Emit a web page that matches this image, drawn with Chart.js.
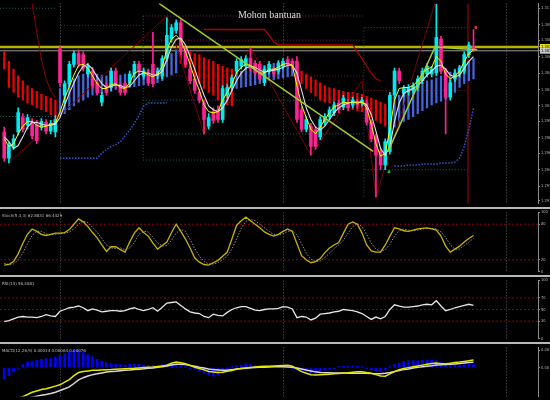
<!DOCTYPE html>
<html>
<head>
<meta charset="utf-8">
<title>Mohon bantuan</title>
<script src="https://cdn.jsdelivr.net/npm/chart.js@4.4.1/dist/chart.umd.min.js"></script>
<style>
  html, body { margin: 0; background: #000; }
  #wrap { position: relative; width: 550px; height: 400px; overflow: hidden; background: #000; }
  .pane { position: absolute; left: 0; width: 550px; }
  .sep { position: absolute; left: 0; width: 550px; height: 2px; background: #b8b8b8; }
</style>
</head>
<body>
<div id="wrap">
  <div class="pane" style="top:0;height:207px"><canvas id="price"></canvas></div>
  <div class="sep" style="top:207px"></div>
  <div class="pane" style="top:209px;height:66px"><canvas id="stoch"></canvas></div>
  <div class="sep" style="top:275px"></div>
  <div class="pane" style="top:277px;height:65px"><canvas id="rsi"></canvas></div>
  <div class="sep" style="top:342px"></div>
  <div class="pane" style="top:344px;height:56px"><canvas id="macd"></canvas></div>
</div>
<script>
// visible bar range (102 bars + empty space on the right), day starts
const X_MIN = -0.915, X_MAX = 114.88;
const DAY_STARTS = [12, 60, 108];

// candles
const OPEN = [1.2987,1.2960,1.2972,1.2987,1.3002,1.2994,1.2997,1.2995,1.2992,1.2997,
  1.2988,1.2987,1.3073,1.3025,1.3037,1.3057,1.3068,1.3067,1.3047,1.3050,
  1.3038,1.3018,1.3035,1.3033,1.3050,1.3035,1.3037,1.3038,1.3047,1.3057,
  1.3045,1.3048,1.3057,1.3045,1.3045,1.3063,1.3083,1.3092,1.3100,1.3073,
  1.3052,1.3042,1.3028,1.3017,1.2993,1.3008,1.3010,1.3000,1.3025,1.3033,
  1.3050,1.3055,1.3055,1.3063,1.3058,1.3057,1.3038,1.3050,1.3052,1.3050,
  1.3055,1.3062,1.3060,1.3060,1.3010,1.2990,1.2993,1.2990,1.2982,1.2997,
  1.3003,1.3007,1.3017,1.3013,1.3018,1.3015,1.3018,1.3017,1.3017,1.2997,
  1.2982,1.2967,1.2953,1.2967,1.3025,1.3050,1.3027,1.3028,1.3030,1.3033,
  1.3040,1.3047,1.3047,1.3048,1.3083,1.3050,1.3023,1.3042,1.3047,1.3050,
  1.3067,1.3075];
const HIGH = [1.2992,1.2976,1.2984,1.3012,1.3006,1.3005,1.3001,1.2999,1.3001,1.3000,
  1.2999,1.3004,1.3076,1.3040,1.3060,1.3071,1.3072,1.3070,1.3058,1.3054,
  1.3041,1.3028,1.3038,1.3053,1.3053,1.3038,1.3040,1.3050,1.3060,1.3060,
  1.3053,1.3051,1.3090,1.3053,1.3066,1.3105,1.3098,1.3103,1.3103,1.3076,
  1.3055,1.3045,1.3031,1.3020,1.3006,1.3012,1.3014,1.3035,1.3036,1.3046,
  1.3063,1.3065,1.3066,1.3074,1.3061,1.3060,1.3055,1.3060,1.3055,1.3061,
  1.3063,1.3065,1.3063,1.3065,1.3013,1.3003,1.2996,1.2993,1.3003,1.3006,
  1.3013,1.3018,1.3020,1.3025,1.3021,1.3023,1.3021,1.3023,1.3020,1.3000,
  1.2985,1.2970,1.2980,1.3028,1.3053,1.3053,1.3035,1.3036,1.3038,1.3045,
  1.3053,1.3058,1.3055,1.3119,1.3086,1.3053,1.3041,1.3051,1.3056,1.3070,
  1.3080,1.3093];
const LOW = [1.2957,1.2955,1.2969,1.2984,1.2987,1.2990,1.2980,1.2975,1.2989,1.2985,
  1.2985,1.2982,1.3034,1.3017,1.3034,1.3054,1.3054,1.3050,1.3044,1.3032,
  1.3025,1.3014,1.3025,1.3030,1.3032,1.3025,1.3025,1.3035,1.3044,1.3047,
  1.3042,1.3035,1.3034,1.3042,1.3042,1.3060,1.3080,1.3089,1.3067,1.3054,
  1.3037,1.3027,1.3017,1.2985,1.2990,1.2996,1.2997,1.2997,1.3022,1.3030,
  1.3047,1.3052,1.3052,1.3050,1.3045,1.3039,1.3035,1.3047,1.3044,1.3047,
  1.3052,1.3054,1.3052,1.2997,1.2987,1.2987,1.2963,1.2969,1.2979,1.2994,
  1.3000,1.3004,1.3007,1.3010,1.3009,1.3012,1.3012,1.3014,1.2994,1.2977,
  1.2920,1.2948,1.2948,1.2964,1.3022,1.3037,1.3024,1.3025,1.3027,1.3030,
  1.3037,1.3044,1.3044,1.3045,1.3047,1.2985,1.3020,1.3039,1.3044,1.3047,
  1.3064,1.3070];
const CLOSE = [1.2960,1.2973,1.2980,1.3007,1.2990,1.3002,1.2983,1.2978,1.2998,1.2988,
  1.2996,1.3000,1.3038,1.3037,1.3057,1.3068,1.3057,1.3053,1.3055,1.3035,
  1.3028,1.3025,1.3028,1.3050,1.3035,1.3028,1.3028,1.3047,1.3057,1.3050,
  1.3050,1.3038,1.3037,1.3050,1.3063,1.3087,1.3095,1.3100,1.3070,1.3057,
  1.3040,1.3030,1.3020,1.3000,1.3002,1.2999,1.3000,1.3032,1.3033,1.3043,
  1.3060,1.3062,1.3063,1.3053,1.3048,1.3042,1.3052,1.3057,1.3047,1.3058,
  1.3060,1.3057,1.3055,1.3000,1.2990,1.3000,1.2972,1.2972,1.3000,1.3003,
  1.3010,1.3015,1.3010,1.3022,1.3012,1.3020,1.3015,1.3020,1.2997,1.2980,
  1.2963,1.2953,1.2977,1.3025,1.3050,1.3040,1.3032,1.3033,1.3035,1.3042,
  1.3050,1.3055,1.3052,1.3085,1.3050,1.3023,1.3038,1.3048,1.3053,1.3067,
  1.3077,1.3072];

// moving averages
const MA_FAST = [1.2980,1.2972,1.2975,1.2985,1.2993,1.2998,1.2998,1.2994,1.2992,1.2993,
  1.2995,1.2996,1.3008,1.3022,1.3034,1.3046,1.3056,1.3057,1.3053,1.3045,
  1.3037,1.3032,1.3032,1.3036,1.3037,1.3033,1.3032,1.3038,1.3048,1.3050,
  1.3049,1.3046,1.3044,1.3047,1.3055,1.3072,1.3083,1.3087,1.3082,1.3070,
  1.3057,1.3042,1.3030,1.3015,1.3008,1.3007,1.3008,1.3020,1.3028,1.3037,
  1.3048,1.3054,1.3057,1.3056,1.3052,1.3048,1.3048,1.3052,1.3052,1.3054,
  1.3057,1.3058,1.3056,1.3035,1.3015,1.3002,1.2990,1.2985,1.2992,1.3000,
  1.3007,1.3013,1.3015,1.3018,1.3017,1.3018,1.3017,1.3018,1.3012,1.2995,
  1.2975,1.2962,1.2965,1.2990,1.3020,1.3032,1.3033,1.3033,1.3035,1.3040,
  1.3047,1.3052,1.3054,1.3065,1.3060,1.3047,1.3042,1.3045,1.3050,1.3060,
  1.3068,1.3072];
const MA_SLOW = [1.2982,1.2977,1.2970,1.2973,1.2982,1.2992,1.2997,1.2997,1.2995,1.2994,
  1.2994,1.2995,1.3002,1.3015,1.3027,1.3038,1.3048,1.3055,1.3057,1.3052,
  1.3044,1.3037,1.3033,1.3034,1.3036,1.3035,1.3033,1.3034,1.3040,1.3046,
  1.3048,1.3048,1.3046,1.3046,1.3050,1.3062,1.3075,1.3083,1.3084,1.3077,
  1.3065,1.3052,1.3038,1.3025,1.3014,1.3010,1.3008,1.3012,1.3020,1.3030,
  1.3040,1.3048,1.3053,1.3055,1.3054,1.3051,1.3049,1.3050,1.3051,1.3052,
  1.3054,1.3056,1.3056,1.3048,1.3030,1.3012,1.3000,1.2992,1.2989,1.2993,
  1.3000,1.3007,1.3012,1.3015,1.3017,1.3018,1.3018,1.3018,1.3015,1.3005,
  1.2988,1.2970,1.2963,1.2972,1.2998,1.3017,1.3027,1.3030,1.3032,1.3035,
  1.3040,1.3046,1.3050,1.3055,1.3056,1.3052,1.3046,1.3044,1.3046,1.3053,
  1.3060,1.3065];

// trend cloud bars (1 = bullish blue, 0 = bearish red)
const CLOUD_HI = [1.3070,1.3060,1.3052,1.3045,1.3040,1.3035,1.3032,1.3029,1.3026,1.3024,
  1.3022,1.3020,1.3032,1.3035,1.3038,1.3042,1.3045,1.3047,1.3049,1.3048,
  1.3047,1.3046,1.3045,1.3045,1.3046,1.3046,1.3047,1.3047,1.3049,1.3050,
  1.3051,1.3052,1.3052,1.3053,1.3055,1.3062,1.3068,1.3072,1.3072,1.3071,
  1.3070,1.3068,1.3067,1.3064,1.3062,1.3060,1.3057,1.3055,1.3053,1.3052,
  1.3049,1.3050,1.3052,1.3053,1.3054,1.3055,1.3056,1.3057,1.3058,1.3059,
  1.3060,1.3060,1.3060,1.3052,1.3050,1.3047,1.3044,1.3041,1.3038,1.3035,
  1.3033,1.3032,1.3030,1.3029,1.3028,1.3028,1.3027,1.3026,1.3024,1.3022,
  1.3020,1.3018,1.3016,1.3020,1.3023,1.3025,1.3028,1.3031,1.3034,1.3036,
  1.3038,1.3040,1.3041,1.3043,1.3045,1.3047,1.3049,1.3052,1.3055,1.3057,
  1.3060,1.3063];
const CLOUD_LO = [1.3052,1.3033,1.3028,1.3023,1.3020,1.3017,1.3015,1.3012,1.3010,1.3008,
  1.3005,1.3003,1.3003,1.3006,1.3010,1.3014,1.3018,1.3020,1.3023,1.3025,
  1.3026,1.3027,1.3028,1.3029,1.3031,1.3032,1.3032,1.3033,1.3034,1.3035,
  1.3036,1.3037,1.3038,1.3038,1.3040,1.3044,1.3046,1.3048,1.3058,1.3054,
  1.3050,1.3044,1.3037,1.3032,1.3028,1.3025,1.3020,1.3017,1.3015,1.3014,
  1.3032,1.3033,1.3034,1.3035,1.3036,1.3037,1.3038,1.3040,1.3041,1.3042,
  1.3043,1.3044,1.3045,1.3040,1.3037,1.3032,1.3028,1.3024,1.3020,1.3018,
  1.3017,1.3015,1.3013,1.3012,1.3012,1.3010,1.3009,1.3008,1.3005,1.3002,
  1.2999,1.2996,1.2993,1.2990,1.2992,1.2995,1.2998,1.3000,1.3003,1.3006,
  1.3009,1.3012,1.3015,1.3017,1.3019,1.3021,1.3023,1.3028,1.3033,1.3037,
  1.3040,1.3042];
const CLOUD_BULL = [0,0,0,0,0,0,0,0,0,0, 0,0,1,1,1,1,1,1,1,1,
  1,1,1,1,1,1,1,1,1,1, 1,1,1,1,1,1,1,1,0,0,
  0,0,0,0,0,0,0,0,0,0, 1,1,1,1,1,1,1,1,1,1,
  1,1,1,0,0,0,0,0,0,0, 0,0,0,0,0,0,0,0,0,0,
  0,0,0,1,1,1,1,1,1,1, 1,1,1,1,1,1,1,1,1,1,
  1,1];

// trailing stops and exit curve (first bar index + values)
const TRAIL_A_FROM = 12;
const TRAIL_A = [1.2960,1.2960,1.2960,1.2960,1.2960,1.2960,1.2960,1.2960,1.2960,1.2965,
  1.2969,1.2972,1.2974,1.2977,1.2983,1.2989,1.2996,1.3004,1.3014,1.3017,
  1.3017,1.3017,1.3017,1.3017];
const TRAIL_B_FROM = 84;
const TRAIL_B = [1.2952,1.2952,1.2952,1.2953,1.2953,1.2953,1.2954,1.2954,1.2954,1.2954,
  1.2955,1.2955,1.2955,1.2956,1.2960,1.2972,1.2990,1.3012];
const STOP_FROM = 43;
const STOP = [1.3093,1.3093,1.3093,1.3093,1.3093,1.3093,1.3093,1.3093,1.3093,1.3093,
  1.3093,1.3093,1.3093,1.3093,1.3087,1.3080,1.3077,1.3077,1.3077,1.3077,
  1.3077,1.3077,1.3077,1.3077,1.3077,1.3077,1.3077,1.3077,1.3077,1.3077,
  1.3077,1.3077,1.3077,1.3070,1.3063,1.3055,1.3048,1.3042,1.3040];
const EXIT_FROM = 6;
const EXIT = [1.3120,1.3090,1.3062,1.3042,1.3030,1.3022];

// zigzag and drawn trendlines
const ZZ_X = [1, 35, 43, 53, 66, 77, 80, 93];
const ZZ_P = [1.2955, 1.3107, 1.2985, 1.3074, 1.2963, 1.3040, 1.2920, 1.3125];
const TREND_A_X = [33.3, 79.4];
const TREND_A_P = [1.3120, 1.2967];
const TREND_B_X = [82.6, 92.7, 101.8];
const TREND_B_P = [1.2967, 1.3075, 1.3072];

// pivot levels [from bar, to bar, price]
const TEAL_LEVELS = [[-0.9, 11.4, 1.3115], [-0.9, 11.4, 1.3003], [29.9, 77.2, 1.3020],
  [29.9, 77.2, 1.2985], [29.9, 77.2, 1.2958], [77.6, 99.8, 1.2948]];
const MAROON_LEVELS = [[12.2, 29.2, 1.3097], [29.9, 77.2, 1.3045], [77.6, 99.8, 1.3030]];
const MAGENTA_LEVELS = [[29.9, 77.2, 1.3107], [29.9, 77.2, 1.3082], [77.6, 99.8, 1.3095]];
const VLINE_X = 99.8;
const VDOT = [[29.9, 1.3107, 1.2958], [77.4, 1.3095, 1.2920]];

// fractal marks
const UP_X = [101.5], UP_P = [1.3095];
const DN_X = [82.8], DN_P = [1.2946];

const ASK = 1.3075, BID = 1.3071;
const PRICE_MIN = 1.2913, PRICE_MAX = 1.3120;
const PRICE_TICKS = [1.3115, 1.3098, 1.3082, 1.3065, 1.3048, 1.3031, 1.3014, 1.2998,
  1.2981, 1.2965, 1.2948, 1.2931, 1.2916];
const NOTE = 'Mohon bantuan', NOTE_X = 50.3, NOTE_P = 1.3108;

// stochastic
const STOCH_K = [11,12,17,30,48,63,72,68,63,61, 63,65,65,66,71,80,89,84,76,66,
  57,45,34,42,42,37,33,50,65,74, 66,60,48,38,44,50,66,80,68,55,
  40,23,16,12,11,15,19,26,33,55, 78,86,92,86,80,74,67,63,60,63,
  68,72,68,47,27,20,15,17,22,32, 40,45,49,65,80,84,80,65,45,35,
  33,33,45,60,74,72,69,68,70,72, 73,74,72,70,60,43,33,38,43,50,
  56,61];
const STOCH_D = [14,12,13,19,32,47,61,68,68,64, 62,63,64,65,67,72,80,85,83,75,
  66,56,45,40,39,40,37,40,49,63, 68,67,58,49,43,44,53,65,71,68,
  54,39,26,17,13,13,15,20,26,38, 55,73,85,88,86,80,74,68,63,62,
  64,68,69,62,47,31,21,17,18,24, 31,39,45,53,65,76,81,76,63,48,
  38,34,37,46,60,69,72,70,69,70, 72,73,73,72,67,58,45,38,38,44,
  50,56];
const STOCH_LEVELS = [80, 20];
const STOCH_TICKS = [100, 80, 20, 0];

// RSI
const RSI = [29,31,34,37,38,37,37,36,38,41, 39,38,47,50,53,54,56,53,48,51,
  49,46,47,48,48,47,48,51,53,50, 48,50,53,47,54,61,62,63,57,51,
  46,44,43,38,36,42,40,39,45,50, 53,55,55,52,49,48,50,51,51,52,
  55,54,51,36,38,37,32,35,42,43, 44,46,47,50,49,48,46,43,38,33,
  37,34,38,50,58,56,54,54,55,56, 58,59,58,65,56,48,50,53,55,57,
  59,57];
const RSI_LEVELS = [70, 50, 30];
const RSI_TICKS = [100, 70, 50, 30, 0];

// MACD
const MACD_HIST = [-0.00086,-0.0006,-0.00033,-0.00007,0.00023,0.00043,0.0005,0.00057,0.00063,0.00067,
  0.00073,0.0008,0.00093,0.00106,0.00123,0.0013,0.00135,0.00113,0.00096,0.00083,
  0.00063,0.0005,0.00037,0.0003,0.00025,0.00025,0.0002,0.00025,0.00029,0.00027,
  0.0002,0.00017,0.00018,0.00015,0.00023,0.00028,0.00033,0.00027,0.00017,0.00007,
  -0.00003,-0.0001,-0.00023,-0.0004,-0.00057,-0.00065,-0.00053,-0.00033,-0.00013,0.00002,
  0.00013,0.0002,0.00029,0.00025,0.00017,0.0001,0.00005,0.00002,0.00005,0.00007,
  0.00005,0.00002,-0.00003,-0.00017,-0.0003,-0.0004,-0.00047,-0.00053,-0.00033,-0.0002,
  -0.0001,-0.00001,0.00005,0.00009,0.00011,0.00013,0.00011,0.00005,-0.00005,-0.00015,
  -0.00027,-0.00031,-0.00017,0.00007,0.00025,0.00035,0.00047,0.00051,0.00051,0.00051,
  0.00055,0.00058,0.00058,0.00053,0.0004,0.00023,0.00017,0.00017,0.0002,0.00023,
  0.00025,0.00023];
const MACD_MAIN = [-0.00273,-0.00259,-0.00246,-0.00233,-0.00219,-0.00203,-0.00186,-0.00176,-0.00166,-0.0016,
  -0.0015,-0.0014,-0.0013,-0.0011,-0.0009,-0.0006,-0.00037,-0.0003,-0.00025,-0.0002,
  -0.00019,-0.00017,-0.00016,-0.00015,-0.00013,-0.00011,-0.00009,-0.00007,-0.00005,-0.00002,
  0.00001,0.00003,0.00005,0.00008,0.00013,0.00018,0.00033,0.00043,0.00037,0.00029,
  0.00017,0.00003,-0.00007,-0.00017,-0.00029,-0.00033,-0.00037,-0.00035,-0.00028,-0.00022,
  -0.00013,-0.00007,-0.00003,0.00001,0.00005,0.00009,0.0001,0.00011,0.00013,0.00015,
  0.00017,0.00018,0.0001,-0.0001,-0.0003,-0.00043,-0.00053,-0.00055,-0.00053,-0.00052,
  -0.0005,-0.00047,-0.00044,-0.00041,-0.00039,-0.00035,-0.00032,-0.00031,-0.00037,-0.00042,
  -0.00053,-0.00063,-0.00065,-0.00047,-0.0003,-0.00015,-0.00007,0,0.00007,0.00013,
  0.00019,0.00025,0.00031,0.00035,0.0003,0.0003,0.00033,0.00038,0.00042,0.00047,
  0.00052,0.00057];
const MACD_SIGNAL = [-0.00299,-0.00286,-0.00273,-0.00259,-0.00246,-0.00233,-0.00223,-0.00216,-0.00209,-0.00203,
  -0.00196,-0.00186,-0.00173,-0.0016,-0.00146,-0.0012,-0.00093,-0.00076,-0.00063,-0.00053,
  -0.00047,-0.0004,-0.00033,-0.0003,-0.00027,-0.00023,-0.0002,-0.00018,-0.00015,-0.00012,
  -0.00009,-0.00005,-0.00002,0.00002,0.00007,0.00013,0.0002,0.00025,0.00025,0.00023,
  0.00017,0.0001,0.00003,-0.00003,-0.0001,-0.00015,-0.00017,-0.0002,-0.00019,-0.00015,
  -0.0001,-0.00007,-0.00004,-0.00001,0.00001,0.00002,0.00003,0.00005,0.00006,0.00007,
  0.00007,0.00005,0.00003,-0.00002,-0.0001,-0.00018,-0.00025,-0.00032,-0.00036,-0.00038,
  -0.00039,-0.0004,-0.00041,-0.00041,-0.00042,-0.00042,-0.00042,-0.00042,-0.00043,-0.00045,
  -0.00046,-0.00047,-0.00043,-0.00037,-0.0003,-0.00022,-0.00015,-0.0001,-0.00003,0.00002,
  0.00007,0.00011,0.00015,0.0002,0.00021,0.00023,0.00025,0.00028,0.00031,0.00035,
  0.00038,0.00041];
const MACD_MIN = -0.00219, MACD_MAX = 0.00153;
const MACD_TICKS = [0.00133, 0];

Chart.defaults.font.family = '"DejaVu Sans", sans-serif';
Chart.defaults.animation = false;

const CYAN = '#00e8f0', PINK = '#ff2294';
const AXIS_FONT = {size: 4, family: '"Liberation Sans Narrow", "DejaVu Sans Condensed", "DejaVu Sans", sans-serif'};

const pts = (arr, from = 0) => arr.map((v, k) => ({x: from + k, y: v}));
const pairs = (xs, ps) => xs.map((x, k) => ({x, y: ps[k]}));
const segs = list => list.flatMap(([a, b, p]) => [{x: a, y: p}, {x: b, y: p}, {x: b, y: null}]);
const vsegs = list => list.flatMap(([x, a, b]) => [{x, y: a}, {x, y: b}, {x, y: null}]);
const flat = v => [{x: X_MIN, y: v}, {x: X_MAX, y: v}];

function line(data, color, width, more) {
  return Object.assign({type: 'line', data, borderColor: color, borderWidth: width,
    pointRadius: 0, tension: 0, fill: false}, more || {});
}
function bars(data, color, thick, order) {
  return {type: 'bar', data, backgroundColor: color, barThickness: thick, grouped: false,
    minBarLength: 1, borderWidth: 0, order};
}

function xScale() {
  return {
    type: 'linear', min: X_MIN, max: X_MAX, offset: false,
    afterBuildTicks: a => { a.ticks = DAY_STARTS.map(value => ({value})); },
    afterFit: a => { a.height = 0; },
    ticks: {display: false},
    grid: {color: '#5e6466', lineWidth: 1, drawTicks: false, offset: false},
    border: {display: false, dash: [1, 2]}
  };
}

function yScale(min, max, ticks, fmt, special) {
  const mark = c => (special && c.tick) ? special[c.tick.value] : undefined;
  return {
    position: 'right', min, max,
    afterBuildTicks: a => { a.ticks = ticks.map(value => ({value})); },
    afterFit: a => { a.width = 12; },
    ticks: {
      autoSkip: false, padding: 1, font: AXIS_FONT, callback: fmt,
      color: c => mark(c) ? '#000' : '#b4b4b4',
      showLabelBackdrop: c => !!mark(c),
      backdropColor: c => mark(c) || 'rgba(0,0,0,0)',
      backdropPadding: {x: 1, y: 0.5}
    },
    grid: {drawOnChartArea: false, tickLength: 2, color: '#8c8c8c'},
    border: {color: '#8c8c8c'}
  };
}

// indicator caption in the pane corner
const paneText = {
  id: 'paneText',
  afterDraw(chart, args, opts) {
    if (!opts.text) return;
    const {ctx, chartArea} = chart;
    ctx.save();
    ctx.font = '4px "DejaVu Sans", sans-serif';
    ctx.fillStyle = '#bdbdbd';
    ctx.textBaseline = 'top';
    ctx.fillText(opts.text, chartArea.left + 2, chartArea.top + 2);
    ctx.restore();
  }
};
// text object placed at a bar / price
const noteText = {
  id: 'noteText',
  afterDatasetsDraw(chart, args, opts) {
    if (!opts.text) return;
    const {ctx, scales} = chart;
    ctx.save();
    ctx.font = '10px "Liberation Serif", "DejaVu Serif", serif';
    ctx.fillStyle = '#dcdcdc';
    ctx.textBaseline = 'middle';
    ctx.fillText(opts.text, scales.x.getPixelForValue(opts.at), scales.y.getPixelForValue(opts.price));
    ctx.restore();
  }
};

function makeChart(id, datasets, y, caption, note) {
  return new Chart(document.getElementById(id), {
    type: 'bar',
    data: {datasets},
    options: {
      responsive: true, maintainAspectRatio: false, events: [],
      layout: {padding: 0, autoPadding: false},
      scales: {x: xScale(), y},
      plugins: {
        legend: {display: false}, tooltip: {enabled: false},
        paneText: {text: caption}, noteText: note || {}
      }
    },
    plugins: [paneText, noteText]
  });
}

const candleColor = c => CLOSE[c.dataIndex] >= OPEN[c.dataIndex] ? CYAN : PINK;

makeChart('price', [
  line(flat(ASK), '#b4b400', 2.5, {order: 40}),
  line(flat(BID), '#9a9a9a', 1, {order: 39}),
  line(segs(TEAL_LEVELS), '#1d6464', 1, {borderDash: [1, 2], order: 38}),
  line(segs(MAROON_LEVELS), '#7c1c1c', 1, {borderDash: [1, 2], order: 38}),
  line(segs(MAGENTA_LEVELS), '#7a1f5e', 1, {borderDash: [1, 2], order: 38}),
  line(vsegs(VDOT), '#1d5a5a', 1, {borderDash: [1, 2], order: 38}),
  line(vsegs([[VLINE_X, PRICE_MAX, PRICE_MIN]]), '#6e0000', 1, {order: 37}),
  bars(CLOUD_LO.map((lo, i) => ({x: i, y: [lo, CLOUD_HI[i]]})),
    c => CLOUD_BULL[c.dataIndex] ? '#4266dc' : '#f00000', 1.6, 30),
  line(pts(EXIT, EXIT_FROM), '#8a0000', 1, {order: 29}),
  line(pairs(ZZ_X, ZZ_P), '#7a0000', 1, {order: 28}),
  bars(LOW.map((l, i) => ({x: i, y: [l, HIGH[i]]})), candleColor, 1, 21),
  bars(OPEN.map((o, i) => ({x: i, y: [o, CLOSE[i]]})), candleColor, 3, 20),
  line(pts(MA_SLOW), '#e2e2e2', 1.1, {order: 12}),
  line(pts(MA_FAST), '#ffff00', 1, {order: 11}),
  line(pts(TRAIL_A, TRAIL_A_FROM), '#3556c8', 1.5, {borderDash: [1.5, 1.5], order: 10}),
  line(pts(TRAIL_B, TRAIL_B_FROM), '#3556c8', 1.5, {borderDash: [1.5, 1.5], order: 10}),
  line(pts(STOP, STOP_FROM), '#b00000', 1.3, {order: 10}),
  line(pairs(TREND_A_X, TREND_A_P), '#a6cc2e', 1.5, {order: 5}),
  line(pairs(TREND_B_X, TREND_B_P), '#a6cc2e', 1.5, {order: 5}),
  line(pairs(UP_X, UP_P), 'rgba(0,0,0,0)', 0, {showLine: false, pointRadius: 1.5,
    pointBackgroundColor: '#ff2a2a', pointBorderWidth: 0, order: 1}),
  line(pairs(DN_X, DN_P), 'rgba(0,0,0,0)', 0, {showLine: false, pointRadius: 1.5,
    pointBackgroundColor: '#22c022', pointBorderWidth: 0, order: 1})
], yScale(PRICE_MIN, PRICE_MAX, PRICE_TICKS.concat([ASK, BID]), v => v.toFixed(4),
  {[ASK]: '#e2e200', [BID]: '#c8c8c8'}), '', {text: NOTE, at: NOTE_X, price: NOTE_P});

makeChart('stoch', [
  line(segs(STOCH_LEVELS.map(v => [X_MIN, X_MAX, v])), '#8c0000', 1, {borderDash: [2, 2], order: 5}),
  line(pts(STOCH_D), '#8e8e8e', 1, {borderDash: [1.5, 1.5], order: 2}),
  line(pts(STOCH_K), '#c8b400', 1.3, {order: 1})
], yScale(0, 100, STOCH_TICKS, v => String(v)), 'Stoch(5,3,3) 62.8831 66.4429');

makeChart('rsi', [
  line(segs(RSI_LEVELS.map(v => [X_MIN, X_MAX, v])), '#8c0000', 1, {borderDash: [2, 2], order: 5}),
  line(pts(RSI), '#e6e6e6', 1.3, {order: 1})
], yScale(0, 100, RSI_TICKS, v => String(v)), 'RSI(14) 56.4881');

makeChart('macd', [
  bars(pts(MACD_HIST), '#0000ff', 2, 5),
  line(pts(MACD_SIGNAL), '#d8d8d8', 1.5, {order: 2}),
  line(pts(MACD_MAIN), '#e6e600', 1.5, {order: 1})
], yScale(MACD_MIN, MACD_MAX, MACD_TICKS, v => v === 0 ? '0.00' : v.toFixed(5)),
  'MACD(12,26,9) 0.00034 0.00064 0.00076');
</script>
</body>
</html>
